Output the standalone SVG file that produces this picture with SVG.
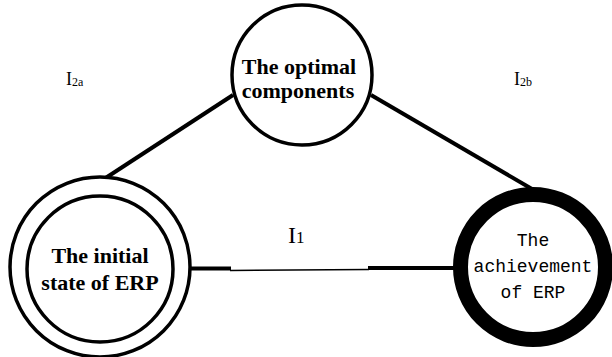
<svg xmlns="http://www.w3.org/2000/svg" width="612" height="357" viewBox="0 0 612 357">
  <style>
    .ring { fill: #fff; stroke: #000; stroke-width: 3.5; }
    .edge { stroke: #000; stroke-width: 4; fill: none; }
    .thin { stroke: #000; stroke-width: 1.5; fill: none; }
  </style>
  <rect width="612" height="357" fill="#fff"/>

  <!-- connectors -->
  <g id="connectors">
    <line class="edge" x1="101" y1="181" x2="233" y2="95"/>
    <line class="edge" x1="371" y1="95" x2="532" y2="189"/>
    <line class="edge" x1="190" y1="268.5" x2="231" y2="268.5"/>
    <line class="thin" x1="230" y1="270.5" x2="369" y2="269.5"/>
    <line class="edge" x1="368" y1="268" x2="455" y2="268"/>
  </g>

  <!-- connector labels -->
  <g id="labels" font-family="Liberation Serif">
    <text x="66" y="85" font-size="18">I<tspan font-size="12" dy="1">2a</tspan></text>
    <text x="514" y="85" font-size="18">I<tspan font-size="12" dy="1">2b</tspan></text>
    <text x="288" y="243" font-size="24">I<tspan font-size="17">1</tspan></text>
  </g>

  <!-- top node -->
  <g id="node-optimal" font-family="Liberation Serif" font-weight="bold" font-size="22" text-anchor="middle">
    <circle class="ring" cx="302" cy="75" r="70"/>
    <text x="299" y="74">The optimal</text>
    <text x="298" y="98">components</text>
  </g>

  <!-- left node: double ring -->
  <g id="node-initial" font-family="Liberation Serif" font-weight="bold" font-size="22" text-anchor="middle">
    <circle class="ring" cx="100" cy="267" r="90"/>
    <circle class="ring" cx="100" cy="269" r="73"/>
    <text x="100" y="263">The initial</text>
    <text x="100" y="290">state of ERP</text>
  </g>

  <!-- right node: heavy ring -->
  <g id="node-achievement" font-family="Liberation Mono" font-size="18" text-anchor="middle">
    <circle cx="533" cy="267" r="72.5" fill="#fff" stroke="#000" stroke-width="15"/>
    <text x="533" y="246">The</text>
    <text x="533" y="272">achievement</text>
    <text x="533" y="298">of ERP</text>
  </g>
</svg>
